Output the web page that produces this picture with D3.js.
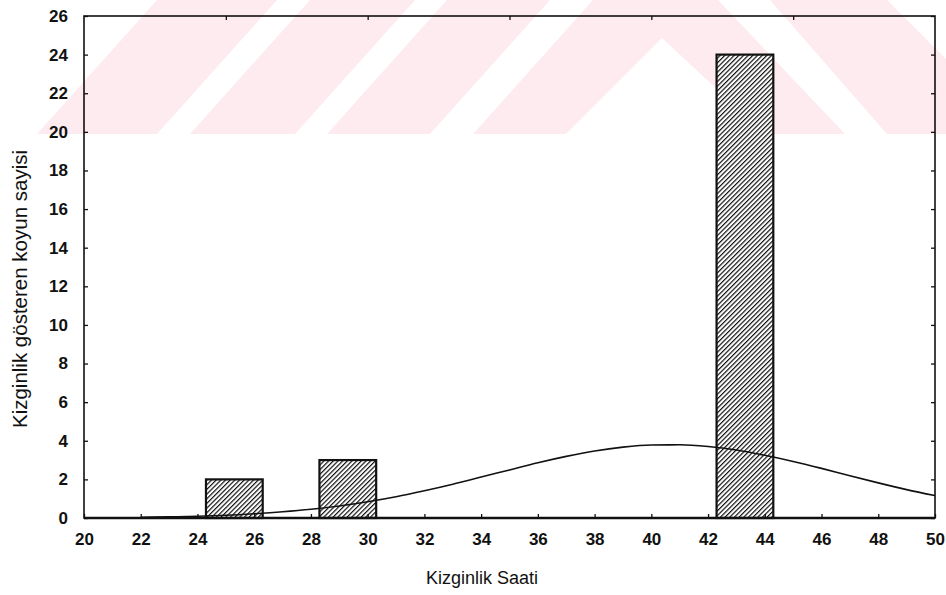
<!DOCTYPE html>
<html lang="tr">
<head>
<meta charset="UTF-8"/>
<title>Kizginlik Saati</title>
<script src="https://cdn.jsdelivr.net/npm/d3@7/dist/d3.min.js"></script>
<style>
  body { margin: 0; background: #fff; }
  text { font-family: "Liberation Sans", Arial, sans-serif; fill: #111; }
  .tick line { stroke: #111; stroke-width: 1.3; }
  .tick text { font-size: 17px; font-weight: bold; }
</style>
</head>
<body>
<script>
// histogram bins (hours) and number of ewes in each
var binStart = [24.3, 28.3, 42.3];
var binEnd = [26.3, 30.3, 44.3];
var counts = [2, 3, 24];

// fitted normal curve
var curveX = [22, 23, 24, 25, 26, 27, 28, 29, 30, 31, 32, 33, 34, 35, 36,
              37, 38, 39, 40, 41, 42, 43, 44, 45, 46, 47, 48, 49, 50];
var curveY = [0.04, 0.06, 0.09, 0.14, 0.22, 0.32, 0.45, 0.62, 0.84, 1.10, 1.41, 1.75, 2.12, 2.49, 2.86,
              3.19, 3.47, 3.67, 3.78, 3.79, 3.70, 3.52, 3.25, 2.93, 2.57, 2.19, 1.82, 1.47, 1.16];

var xTicks = d3.range(20, 51, 2);
var yTicks = d3.range(0, 27, 2);
var topTicks = [25, 30, 35, 40, 45];

var xTitle = "Kizginlik Saati";
var yTitle = "Kizginlik gösteren koyun sayisi";

// faint pink watermark behind the chart (page decoration)
var watermark = [
  [[157, 0], [277, 0], [157, 134], [37, 134]],
  [[310, 0], [415, 0], [295, 134], [190, 134]],
  [[447, 0], [550, 0], [430, 134], [327, 134]],
  [[593, 0], [718, 0], [845, 134], [765, 134], [662, 38], [566, 134], [473, 134]],
  [[770, 0], [887, 0], [946, 59], [946, 134], [887, 134]]
];

var w = 946, h = 595;
var padL = 84, padR = 935, padT = 16, padB = 518;

var svg = d3.select("body").append("svg")
  .attr("width", w)
  .attr("height", h);

svg.append("g").selectAll("polygon")
  .data(watermark)
  .enter()
  .append("polygon")
  .attr("points", function(d) { return d.join(" "); })
  .attr("fill", "#fdebef");

var defs = svg.append("defs");
var pat = defs.append("pattern")
  .attr("id", "hatch")
  .attr("patternUnits", "userSpaceOnUse")
  .attr("width", 3.3)
  .attr("height", 3.3)
  .attr("patternTransform", "rotate(45)");
pat.append("rect").attr("width", 3.3).attr("height", 3.3).attr("fill", "#fff");
pat.append("line")
  .attr("x1", 0).attr("y1", 0).attr("x2", 0).attr("y2", 3.3)
  .attr("stroke", "#111").attr("stroke-width", 2.4);

var x = d3.scaleLinear().domain([20, 50]).range([padL, padR]);
var y = d3.scaleLinear().domain([0, 26]).range([padB, padT]);

// bars
svg.selectAll("rect.bar")
  .data(counts)
  .enter()
  .append("rect")
  .attr("class", "bar")
  .attr("x", function(d, i) { return x(binStart[i]); })
  .attr("y", function(d) { return y(d); })
  .attr("width", function(d, i) { return x(binEnd[i]) - x(binStart[i]); })
  .attr("height", function(d) { return y(0) - y(d); })
  .attr("fill", "url(#hatch)")
  .attr("stroke", "#111")
  .attr("stroke-width", 2.2);

// normal curve
var line = d3.line()
  .x(function(d, i) { return x(curveX[i]); })
  .y(function(d) { return y(d); })
  .curve(d3.curveMonotoneX);

svg.append("path")
  .datum(curveY)
  .attr("d", line)
  .attr("fill", "none")
  .attr("stroke", "#111")
  .attr("stroke-width", 1.6);

// axes, ticks pointing inward
var xAxis = d3.axisBottom(x).tickValues(xTicks).tickSizeInner(-4).tickSizeOuter(0).tickPadding(15);
var yAxis = d3.axisLeft(y).tickValues(yTicks).tickSizeInner(-4).tickSizeOuter(0).tickPadding(16);
var xTop = d3.axisTop(x).tickValues(topTicks).tickSizeInner(-4).tickSizeOuter(0).tickFormat("");
var yRight = d3.axisRight(y).tickValues(yTicks).tickSizeInner(-4).tickSizeOuter(0).tickFormat("");

svg.append("g").attr("transform", "translate(0," + padB + ")").call(xAxis);
svg.append("g").attr("transform", "translate(" + padL + ",0)").call(yAxis);
svg.append("g").attr("transform", "translate(0," + padT + ")").call(xTop);
svg.append("g").attr("transform", "translate(" + padR + ",0)").call(yRight);
svg.selectAll(".domain").remove();
svg.selectAll(".tick text").attr("fill", "#111");

// frame
svg.append("rect")
  .attr("x", padL).attr("y", padT)
  .attr("width", padR - padL).attr("height", padB - padT)
  .attr("fill", "none")
  .attr("stroke", "#111")
  .attr("stroke-width", 1.6);
svg.append("line")
  .attr("x1", padL).attr("x2", padR)
  .attr("y1", padB).attr("y2", padB)
  .attr("stroke", "#111")
  .attr("stroke-width", 2.6);

// titles
svg.append("text")
  .attr("x", 482).attr("y", 584)
  .attr("text-anchor", "middle")
  .attr("font-size", "18px")
  .text(xTitle);

svg.append("text")
  .attr("transform", "translate(27,289) rotate(-90)")
  .attr("text-anchor", "middle")
  .attr("font-size", "20.5px")
  .text(yTitle);
</script>
</body>
</html>
